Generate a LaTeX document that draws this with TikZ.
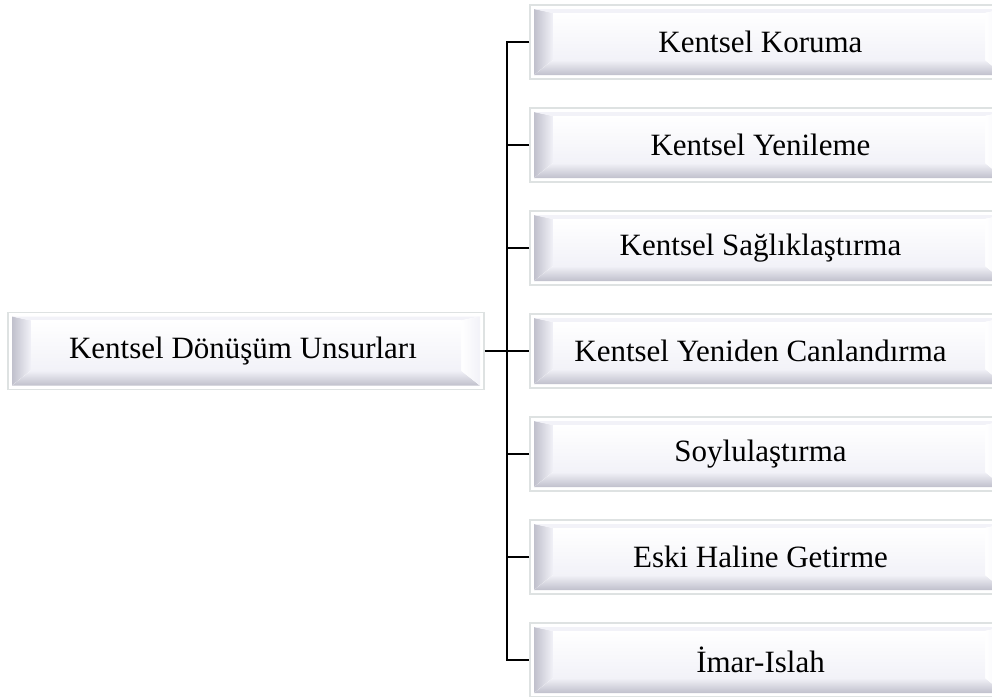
\documentclass[tikz,border=0pt]{standalone}
\usepackage{fontspec}
\setmainfont{Liberation Serif}
\usetikzlibrary{calc}
\newcommand\boxfont{\fontsize{31}{36}\selectfont}
\definecolor{bevdark}{RGB}{192,192,204}
\definecolor{bevmid}{RGB}{218,218,228}
\definecolor{bevlight}{RGB}{242,242,248}
\definecolor{framecol}{RGB}{222,226,226}
\tikzset{
  ubox/.style={draw=framecol, line width=1.2pt, fill=white, inner sep=0pt,
    minimum height=74pt, font=\boxfont, text=black,
    path picture={
      \coordinate (o1) at ($(path picture bounding box.south west)+(4pt,4pt)$);
      \coordinate (o2) at ($(path picture bounding box.north east)+(-4pt,-4pt)$);
      \coordinate (i1) at ($(o1)+(19pt,15pt)$);
      \coordinate (i2) at ($(o2)+(-19pt,-4pt)$);
      \fill[left color=bevdark,right color=bevlight] (o1) -- (o1|-o2) -- (i1|-i2) -- (i1) -- cycle;
      \fill[top color=bevlight,bottom color=bevdark] (o1) -- (i1) -- (i2|-i1) -- (o2|-o1) -- cycle;
      \fill[bevlight] (o1|-o2) -- (o2) -- (i2) -- (i1|-i2) -- cycle;
      \fill[left color=white,right color=bevlight] (o2) -- (o2|-o1) -- (i2|-i1) -- (i2) -- cycle;
      \fill[top color=white,bottom color=bevlight] (i1) rectangle (i2);
    }},
  rbox/.style={ubox, minimum width=478pt},
  lbox/.style={ubox, minimum width=476pt, minimum height=77pt},
  conn/.style={line width=2pt, black}
}
\newcommand\rtext[1]{\hspace*{-17pt}#1}
\begin{document}
\begin{tikzpicture}[x=1pt,y=-1pt]
\useasboundingbox (0,0) rectangle (992,696);
\clip (0,0) rectangle (992,696);
\node[lbox] (L) at (246,351) {\hspace*{-6pt}Kentsel Dönüşüm Unsurları};
\node[rbox] (R1) at (769,42) {\rtext{Kentsel Koruma}};
\node[rbox] (R2) at (769,145) {\rtext{Kentsel Yenileme}};
\node[rbox] (R3) at (769,248) {\rtext{Kentsel Sağlıklaştırma}};
\node[rbox] (R4) at (769,351) {\rtext{Kentsel Yeniden Canlandırma}};
\node[rbox] (R5) at (769,454) {\rtext{Soylulaştırma}};
\node[rbox] (R6) at (769,557) {\rtext{Eski Haline Getirme}};
\node[rbox] (R7) at (769,660) {\rtext{İmar-Islah}};
\draw[conn] (R1.west) -- ++(-22pt,0) |- (R7.west);
\draw[conn] (R2.west) -- ++(-22pt,0);
\draw[conn] (R3.west) -- ++(-22pt,0);
\draw[conn] (R5.west) -- ++(-22pt,0);
\draw[conn] (R6.west) -- ++(-22pt,0);
\draw[conn] (L.east) -- (R4.west);
\end{tikzpicture}
\end{document}
